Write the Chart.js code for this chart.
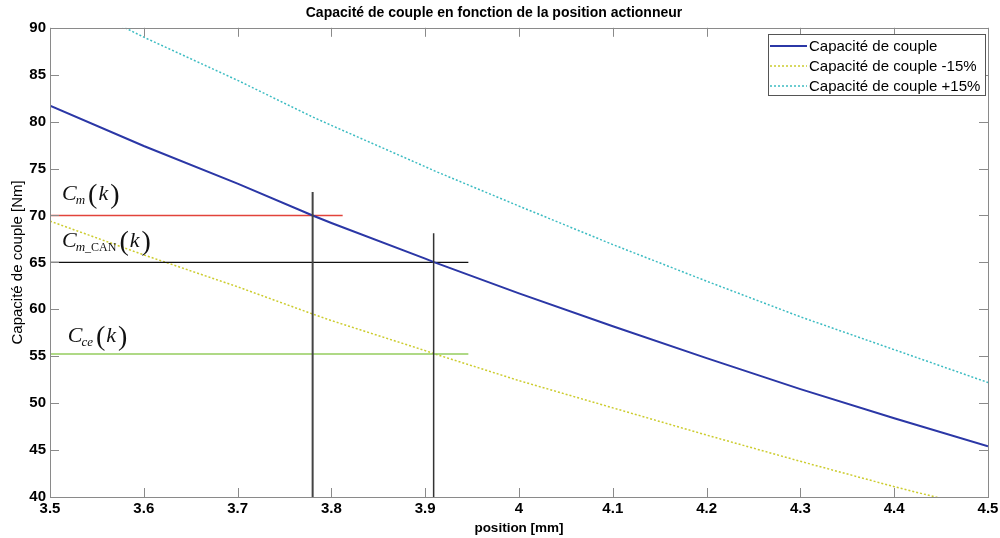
<!DOCTYPE html>
<html>
<head>
<meta charset="utf-8">
<script src="https://cdn.jsdelivr.net/npm/chart.js@4/dist/chart.umd.min.js"></script>
<style>
  html, body { margin:0; padding:0; background:#fff; }
  #wrap { width:1000px; height:538px; position:relative; }
</style>
</head>
<body>
<div id="wrap"><canvas id="chart"></canvas></div>
<script>
// positions (mm)
const POS = [3.5, 3.6, 3.7, 3.78, 3.8, 3.9, 3.91, 4.0, 4.1, 4.2, 4.3, 4.4, 4.5];
// torque capacity (Nm)
const CAP     = [81.7, 77.4, 73.4, 70.0, 69.2, 65.4, 65.0, 61.7, 58.2, 54.8, 51.5, 48.4, 45.4];
const CAP_M15 = [69.4, 65.8, 62.4, 59.5, 58.8, 55.6, 55.25, 52.4, 49.5, 46.6, 43.8, 41.1, 38.6];
const CAP_P15 = [94.0, 89.0, 84.4, 80.5, 79.6, 75.2, 74.75, 71.0, 66.9, 63.0, 59.2, 55.7, 52.2];

const X_TICKS = ['3.5','3.6','3.7','3.8','3.9','4','4.1','4.2','4.3','4.4','4.5'];
const Y_TICKS = ['40','45','50','55','60','65','70','75','80','85','90'];

// reference segments
const CM_X = [3.5, 3.812],  CM_Y = [70, 70];
const CAN_X = [3.5, 3.946], CAN_Y = [65, 65];
const CE_X = [3.5, 3.946],  CE_Y = [55.25, 55.25];
const V1_X = [3.78, 3.78],  V1_Y = [40, 72.5];
const V2_X = [3.909, 3.909], V2_Y = [40, 68.1];

const SERIES_LABELS = ['Capacité de couple', 'Capacité de couple -15%', 'Capacité de couple +15%'];

function pts(xs, ys){ return xs.map((x,i)=>({x, y:ys[i]})); }

function seg(xs, ys, color, width, order){
  return {data:pts(xs,ys), borderColor:color, borderWidth:width, pointRadius:0, order};
}

const datasets = [
  {label:SERIES_LABELS[0], data:pts(POS,CAP), borderColor:'#2b37a6', borderWidth:2, pointRadius:0, order:1},
  {label:SERIES_LABELS[1], data:pts(POS,CAP_M15), borderColor:'#cccc2e', borderWidth:1.5, borderDash:[2,2], pointRadius:0, order:3},
  {label:SERIES_LABELS[2], data:pts(POS,CAP_P15), borderColor:'#3cbcc2', borderWidth:1.5, borderDash:[2,2], pointRadius:0, order:3},
  seg(CM_X, CM_Y, '#e2433b', 1.5, 2),
  seg(CAN_X, CAN_Y, '#111', 1.2, 2),
  seg(CE_X, CE_Y, '#95cc5e', 1.5, 2),
  seg(V1_X, V1_Y, '#444', 2, 0),
  seg(V2_X, V2_Y, '#333', 1.5, 0)
];

// math-style labels next to the reference lines
const MATH = [
  {sub:'m', x:3.5128, y:71.7},
  {sub:'m_CAN', x:3.5128, y:66.65},
  {sub:'ce', x:3.519, y:56.5}
];

const matlabBox = {
  id:'matlabBox',
  afterDraw(chart){
    const {ctx, chartArea:a, scales:{x, y}} = chart;
    ctx.save();
    ctx.strokeStyle = '#8a8a8a';
    ctx.lineWidth = 1;
    ctx.strokeRect(Math.round(a.left)+0.5, Math.round(a.top)+0.5, Math.round(a.right-a.left), Math.round(a.bottom-a.top));
    ctx.beginPath();
    x.ticks.forEach(t=>{
      const px = Math.round(x.getPixelForValue(t.value))+0.5;
      ctx.moveTo(px, a.bottom); ctx.lineTo(px, a.bottom-9);
      ctx.moveTo(px, a.top); ctx.lineTo(px, a.top+9);
    });
    y.ticks.forEach(t=>{
      const py = Math.round(y.getPixelForValue(t.value))+0.5;
      ctx.moveTo(a.left, py); ctx.lineTo(a.left+9, py);
      ctx.moveTo(a.right, py); ctx.lineTo(a.right-9, py);
    });
    ctx.stroke();

    // math labels
    ctx.fillStyle = '#111';
    ctx.textBaseline = 'alphabetic';
    MATH.forEach(m=>{
      let px = x.getPixelForValue(m.x), py = y.getPixelForValue(m.y);
      ctx.font = 'italic 22px "Liberation Serif"';
      ctx.fillText('C', px, py);
      px += ctx.measureText('C').width - 1;
      if(m.sub === 'm_CAN'){
        ctx.font = 'italic 13px "Liberation Serif"';
        ctx.fillText('m', px, py+4);
        px += ctx.measureText('m').width;
        ctx.font = '12px "Liberation Serif"';
        ctx.fillText('_CAN', px, py+4);
        px += ctx.measureText('_CAN').width;
      } else {
        ctx.font = 'italic 13px "Liberation Serif"';
        ctx.fillText(m.sub, px, py+4);
        px += ctx.measureText(m.sub).width;
      }
      px += 3;
      ctx.font = '28px "Liberation Serif"';
      ctx.fillText('(', px, py+3);
      px += ctx.measureText('(').width + 1;
      ctx.font = 'italic 22px "Liberation Serif"';
      ctx.fillText('k', px, py);
      px += ctx.measureText('k').width + 2;
      ctx.font = '28px "Liberation Serif"';
      ctx.fillText(')', px, py+3);
    });

    // legend box
    const lx = 768, ly = 34, lw = 217, lh = 61;
    ctx.fillStyle = '#fff';
    ctx.fillRect(lx, ly, lw, lh);
    ctx.strokeStyle = '#555';
    ctx.lineWidth = 1;
    ctx.strokeRect(lx+0.5, ly+0.5, lw, lh);
    ctx.font = '15px "Liberation Sans", Arial';
    ctx.textBaseline = 'middle';
    [0,1,2].forEach(i=>{
      const ds = chart.data.datasets[i];
      const ry = ly + 12 + i*20;
      ctx.beginPath();
      ctx.strokeStyle = ds.borderColor;
      ctx.lineWidth = ds.borderWidth;
      ctx.setLineDash(ds.borderDash || []);
      ctx.moveTo(770, ry); ctx.lineTo(807, ry);
      ctx.stroke();
      ctx.setLineDash([]);
      ctx.fillStyle = '#000';
      ctx.fillText(SERIES_LABELS[i], 809, ry+1);
    });
    ctx.restore();
  }
};

Chart.defaults.font.family = '"Liberation Sans", Arial, sans-serif';
Chart.defaults.color = '#000';

new Chart(document.getElementById('chart'), {
  type:'line',
  data:{datasets},
  options:{
    responsive:true,
    maintainAspectRatio:false,
    animation:false,
    events:[],
    layout:{padding:{left:0, right:12, top:0, bottom:0}},
    plugins:{
      legend:{display:false},
      tooltip:{enabled:false},
      title:{display:true, text:'Capacité de couple en fonction de la position actionneur',
        font:{size:14, weight:'bold'}, color:'#000', padding:{top:5, bottom:6}}
    },
    scales:{
      x:{
        type:'linear', min:3.5, max:4.5,
        grid:{display:false}, border:{display:false},
        ticks:{stepSize:0.1, padding:-5, font:{size:15, weight:'bold'}, maxRotation:0,
          callback:(v,i)=>X_TICKS[i]},
        title:{display:true, text:'position [mm]', font:{size:13.5, weight:'bold'}, padding:{top:0, bottom:2}},
        afterFit(s){ s.height = 41; }
      },
      y:{
        min:40, max:90,
        grid:{display:false}, border:{display:false},
        ticks:{stepSize:5, padding:-4, font:{size:15, weight:'bold'},
          callback:(v,i)=>Y_TICKS[i]},
        title:{display:true, text:'Capacité de couple [Nm]', font:{size:15}, padding:{top:9, bottom:0}},
        afterFit(s){ s.width = 50; }
      }
    }
  },
  plugins:[matlabBox]
});
</script>
</body>
</html>
